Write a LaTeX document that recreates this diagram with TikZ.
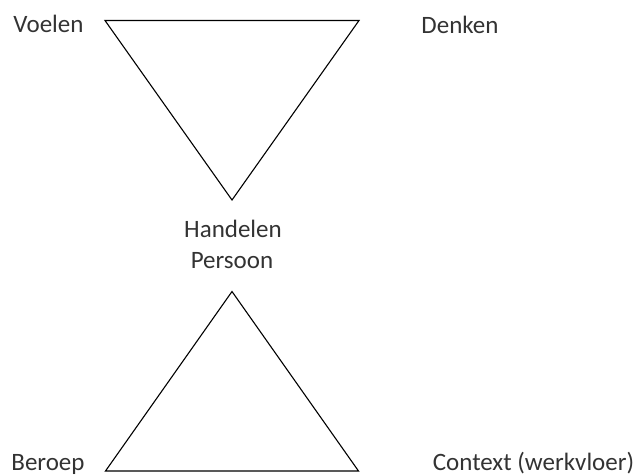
\documentclass[tikz,border=0pt]{standalone}
\usepackage{fontspec}
\setmainfont{Carlito}
\usepackage{tikz}

\begin{document}
\begin{tikzpicture}[x=1pt,y=-1pt]
	\tikzstyle{every node}+=[inner sep=0pt, anchor=base, font=\fontsize{25}{30.5}\selectfont, text=black!80]
	\useasboundingbox (0,0) rectangle (642,475);
	% bovenste driehoek
	\coordinate (v1) at (105,20.5);
	\coordinate (v2) at (359,20.5);
	\coordinate (v3) at (232,200);
	\draw [black, line width=1.1pt, line join=miter] (v1) -- (v2) -- (v3) -- cycle;
	% onderste driehoek
	\coordinate (b1) at (232,291.5);
	\coordinate (b2) at (358.5,471);
	\coordinate (b3) at (105.5,471);
	\draw [black, line width=1.1pt, line join=miter] (b1) -- (b2) -- (b3) -- cycle;
	% labels
	\node (voelen) at (48.5,32.5) {Voelen};
	\node (denken) at (460,33) {Denken};
	\node (handelen) at (233,237) {Handelen};
	\node (persoon) at (232,268) {Persoon};
	\node (beroep) at (48,470) {Beroep};
	\node (context) at (533.5,470) {Context (werkvloer)};
\end{tikzpicture}
\end{document}
